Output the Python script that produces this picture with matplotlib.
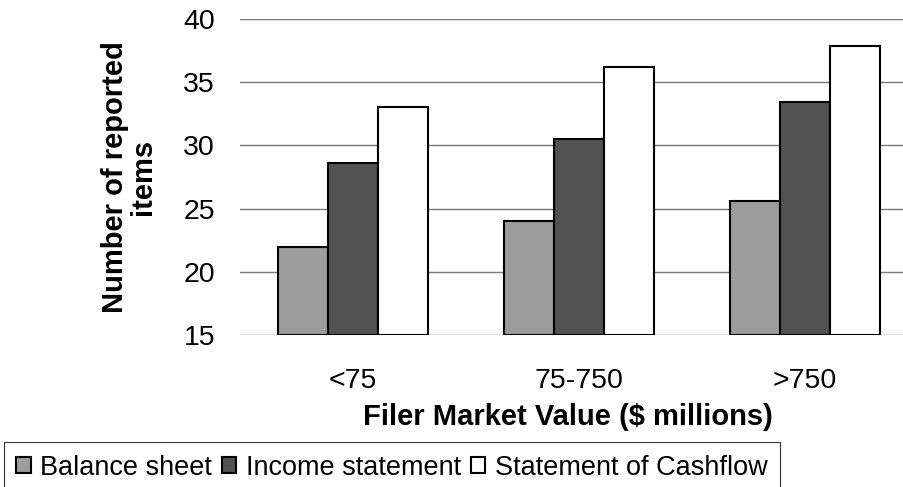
import numpy as np
import matplotlib
matplotlib.use('Agg')
import matplotlib.pyplot as plt

plt.rcParams['font.family'] = ['Liberation Sans', 'DejaVu Sans']

categories = ['<75', '75-750', '>750']
balance_sheet = [22.0, 24.0, 25.6]
income_statement = [28.6, 30.5, 33.4]
cashflow = [33.0, 36.2, 37.9]
series_names = ['Balance sheet', 'Income statement', 'Statement of Cashflow']

fig = plt.figure(figsize=(9.04, 4.87), dpi=100)
ax = fig.add_axes([240 / 904, 1 - 335 / 487, 678 / 904, 316 / 487])

x = np.arange(len(categories))
w = 0.22
ax.bar(x - w, np.array(balance_sheet) - 15, w, bottom=15, color='#9c9c9c',
       edgecolor='black', linewidth=1.5, label=series_names[0], zorder=3)
ax.bar(x, np.array(income_statement) - 15, w, bottom=15, color='#525252',
       edgecolor='black', linewidth=1.5, label=series_names[1], zorder=3)
ax.bar(x + w, np.array(cashflow) - 15, w, bottom=15, color='white',
       edgecolor='black', linewidth=1.5, label=series_names[2], zorder=3)

ax.set_ylim(15, 40)
ax.set_xlim(-0.5, 2.5)
ax.set_yticks(range(15, 41, 5))
ax.set_xticks(x)
ax.set_xticklabels(categories)
ax.yaxis.grid(True, color='#7a7a7a', linewidth=1)
ax.set_axisbelow(True)
for s in ax.spines.values():
    s.set_visible(False)
ax.tick_params(length=0, labelsize=20.5)
ax.tick_params(axis='x', pad=24)
ax.tick_params(axis='y', pad=18)

ax.set_ylabel('Number of reported\nitems', fontsize=21, fontweight='bold',
              labelpad=19, linespacing=1.0)
ax.set_xlabel('Filer Market Value ($ millions)', fontsize=21, fontweight='bold')
ax.xaxis.set_label_coords(0.484, -0.215)

leg = fig.legend(loc='lower left', bbox_to_anchor=(0.004, -0.012), ncol=3,
                 fontsize=19.5, frameon=True, fancybox=False, edgecolor='black',
                 handlelength=0.55, handleheight=0.55, handletextpad=0.35,
                 columnspacing=0.35, borderpad=0.45, borderaxespad=0)
leg.get_frame().set_linewidth(0.8)

fig.savefig('out.png', dpi=100)
